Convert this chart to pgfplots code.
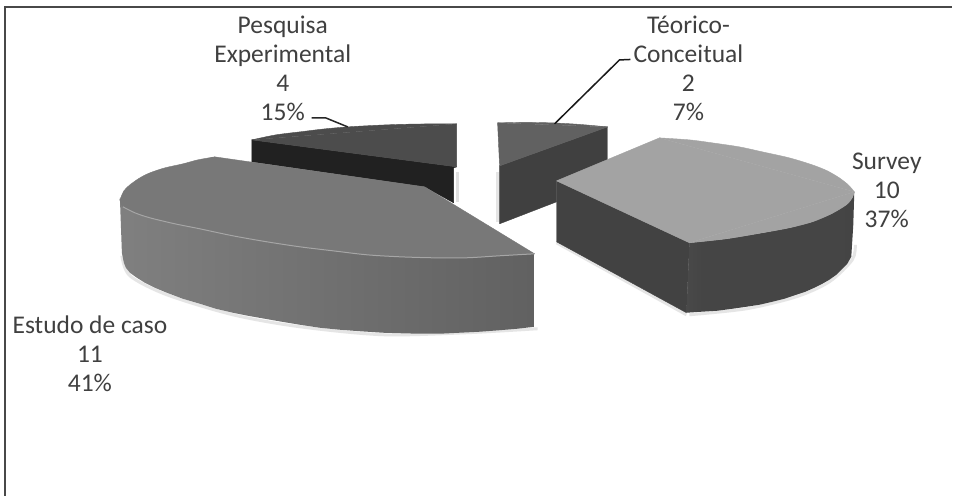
\documentclass[border=0pt]{standalone}
\usepackage{pgfplots}
\usepackage{fontspec}
\setmainfont{Carlito}
\pgfplotsset{compat=1.18}
\definecolor{labeltext}{HTML}{404040}
\definecolor{framegray}{HTML}{484848}
\pgfdeclarehorizontalshading{estudoside}{100bp}{
  rgb(0bp)=(.50,.50,.50);rgb(25bp)=(.50,.50,.50);rgb(50bp)=(.44,.44,.44);
  rgb(75bp)=(.38,.38,.38);rgb(100bp)=(.30,.30,.30)}
\pgfdeclarehorizontalshading{surveyside}{100bp}{
  rgb(0bp)=(.42,.42,.42);rgb(12bp)=(.33,.33,.33);rgb(30bp)=(.27,.27,.27);
  rgb(70bp)=(.27,.27,.27);rgb(100bp)=(.25,.25,.25)}
\tikzset{pielabel/.style={font=\fontsize{25.5}{29}\selectfont, text=labeltext,
  align=center, inner sep=0pt, anchor=center},
  face/.style={fill=#1, draw=#1, line width=.4pt, line join=round}}
\begin{document}
\begin{tikzpicture}
\begin{axis}[
  scale only axis, width=953pt, height=496pt,
  xmin=0, xmax=953, ymin=0, ymax=496, y dir=reverse,
  hide axis, clip=false,
]
% white page area, fixes the extent of the drawing
\addplot[fill=white, draw=none] coordinates {(0,0) (953,0) (953,496) (0,496)} --cycle;
% chart frame: left and top rules only
\addplot[framegray, line width=1.6pt] coordinates {(5,496) (5,7) (953,7)};

% soft contact shadows under the slices
\addplot[black!10, line width=3pt, line join=round, smooth] coordinates {
  (122,256) (130,276) (167,295) (233,315) (300,327) (383,335) (467,333) (538,329)};
\addplot[black!10, line width=3pt, line join=round, smooth] coordinates {
  (690,315) (747,309) (797,297) (830,282) (853,260) (856,245)};
\addplot[black!10, line width=3pt] coordinates {(557,243) (687,315)};
\addplot[black!12, line width=3pt] coordinates {(458,172) (458,202)};
\addplot[black!10, line width=3pt] coordinates {(498,172) (498,222)};

% Pesquisa Experimental: 4 (15%)
\addplot[face=black!87] coordinates {
  (252,140) (457,167) (454,168) (454,203) (425,187) (252,162)} --cycle;
\addplot[face=black!70] coordinates {(252,140) (457,124) (457,167)} --cycle;
\addplot[face=black!70, smooth] coordinates {
  (252,140) (276,135) (300,132) (325,129) (348,127) (375,125.5) (400,124.5) (430,124) (457,124)};

% Teorico-Conceitual: 2 (7%)
\addplot[face=black!75] coordinates {
  (500,166) (608,127) (608,160) (557,181) (557,202) (500,224)} --cycle;
\addplot[face=black!62] coordinates {(498,123) (608,127) (500,166)} --cycle;
\addplot[face=black!62, smooth] coordinates {
  (498,123) (525,122.5) (553,123) (580,124.5) (608,127)};

% Survey: 10 (37%)
\addplot[face=black!74] coordinates {
  (557,181) (690,243) (687,313) (557,242)} --cycle;
\addplot[shading=surveyside, draw=none] coordinates {
  (690,243) (727,239) (763,233) (790,228) (813,222) (832,214) (847,205) (853,198) (855,192)
  (854,225) (852,257) (848,264) (843,269) (837,275) (830,280) (823,284) (815,288) (806,292) (797,295)
  (785,299) (773,302) (760,305) (747,307) (733,309) (718,311) (702,312) (687,313)} --cycle;
\addplot[face=black!36] coordinates {
  (557,181) (660,138) (855,192) (690,243)} --cycle;
\addplot[face=black!36, smooth] coordinates {
  (660,138) (690,140) (713,143) (740,147) (763,152) (790,158) (813,165) (828,171) (840,178)
  (849,185) (855,192)};
\addplot[face=black!36, smooth] coordinates {
  (855,192) (853,198) (847,205) (832,214) (813,222) (790,228) (763,233) (727,239) (690,243)};

% Estudo de caso: 11 (41%)
\addplot[shading=estudoside, draw=none] coordinates {
  (120,198) (123,207) (135,213) (150,218) (175,224) (200,229) (233,236) (267,242) (300,247) (333,251) (367,255)
  (400,257) (433,258) (467,258) (500,256) (535,254)
  (535,327) (518,329) (500,330.5) (480,332) (460,333) (440,334) (420,334) (400,333.5) (383,333) (360,331.5)
  (340,330) (320,328) (300,325) (282,322) (265,319) (248,316) (233,313) (216,309) (200,304) (183,299)
  (167,293) (155,288) (145,283) (137,278) (130,273) (126,268) (124,263) (122,253)} --cycle;
\addplot[face=black!53] coordinates {
  (215,157) (425,187) (535,254) (120,200)} --cycle;
\addplot[face=black!53, smooth] coordinates {
  (535,254) (500,256) (467,258) (433,258) (400,257) (367,255) (333,251) (300,247) (267,242)
  (233,236) (200,229) (175,224) (150,218) (135,213) (123,207) (120,200)};
\addplot[face=black!53, smooth] coordinates {
  (120,200) (124,191) (130,185) (140,178) (150,173) (165,168) (183,164) (198,160) (215,157)};
% closes the joins inside the top face
\addplot[black!53, line width=2pt] coordinates {(122,200.5) (532,253.5)};
\addplot[black!53, line width=2pt] coordinates {(122,199.5) (213,158)};
\addplot[black!35, line width=1pt, smooth] coordinates {
  (123,207) (135,213) (150,218) (175,224) (200,229) (233,236) (267,242) (300,247) (333,251) (367,255)
  (400,257) (433,258) (467,258) (500,256) (535,254)};

% leader lines
\addplot[black!85, line width=1.5pt] coordinates {(312,118) (326,118) (348,127)};
\addplot[black!90, line width=1.5pt] coordinates {(631,59.5) (620,60) (555,124)};

% category, count and share
\node[pielabel] at (axis cs:283,68.5) {Pesquisa\\Experimental\\4\\15\%};
\node[pielabel] at (axis cs:689,68.5) {Téorico-\\Conceitual\\2\\7\%};
\node[pielabel] at (axis cs:887.5,190.5) {Survey\\10\\37\%};
\node[pielabel] at (axis cs:90,354) {Estudo de caso\\11\\41\%};
\end{axis}
\end{tikzpicture}
\end{document}
